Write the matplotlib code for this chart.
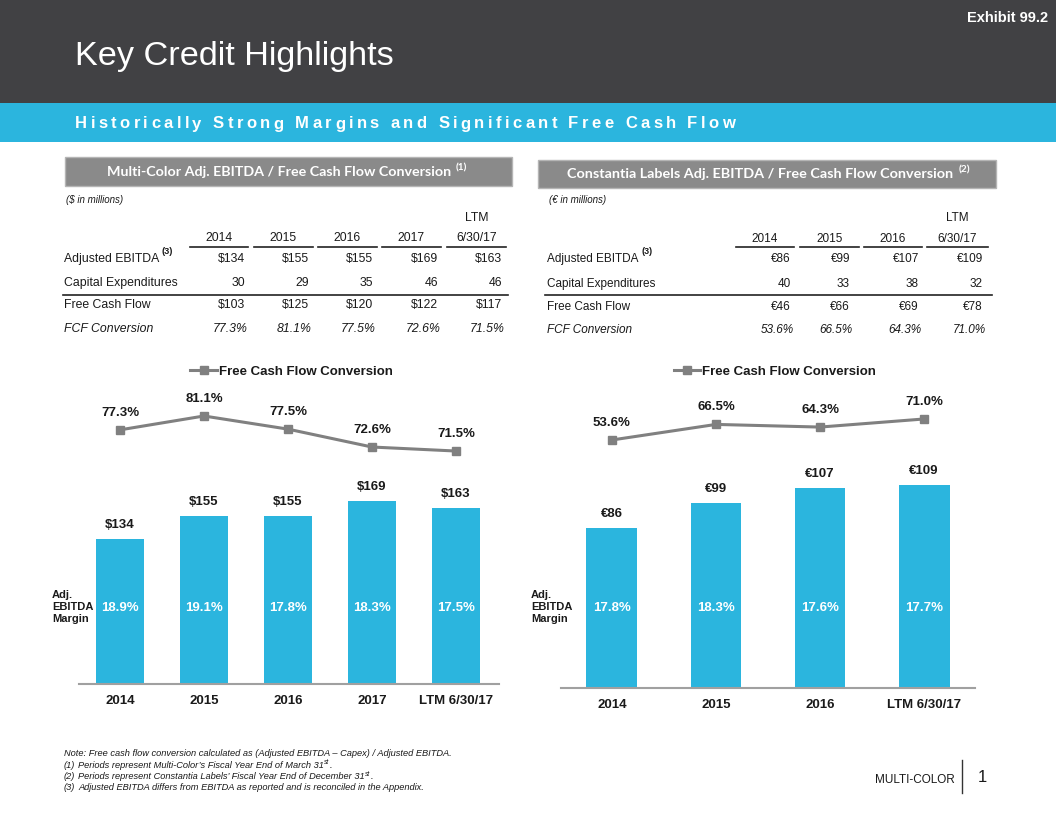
import matplotlib
matplotlib.use('Agg')
import matplotlib.pyplot as plt
from matplotlib.patches import Rectangle
from matplotlib.lines import Line2D
import matplotlib.transforms as mtransforms

# ---------------- data ----------------
mc_periods = ['2014', '2015', '2016', '2017', 'LTM 6/30/17']
mc_ebitda = [134, 155, 155, 169, 163]
mc_capex = [30, 29, 35, 46, 46]
mc_fcf = [103, 125, 120, 122, 117]
mc_conv = [77.3, 81.1, 77.5, 72.6, 71.5]
mc_margin = [18.9, 19.1, 17.8, 18.3, 17.5]

cl_periods = ['2014', '2015', '2016', 'LTM 6/30/17']
cl_ebitda = [86, 99, 107, 109]
cl_capex = [40, 33, 38, 32]
cl_fcf = [46, 66, 69, 78]
cl_conv = [53.6, 66.5, 64.3, 71.0]
cl_margin = [17.8, 18.3, 17.6, 17.7]

row_labels = ['Adjusted EBITDA', 'Capital Expenditures', 'Free Cash Flow', 'FCF Conversion']
# ---------------------------------------

plt.rcParams['font.family'] = ['Liberation Sans', 'DejaVu Sans']

W, H = 1056, 816
fig = plt.figure(figsize=(W / 100, H / 100), dpi=100)
R = fig.canvas.get_renderer()

DARK = '#414144'
BLUE = '#2BB5DE'
GRAY_BOX = '#8A8A8A'
LINE_GRAY = '#808080'
TXT = '#1A1A1A'


def fx(x):
    return x / W


def fy(y):
    return 1 - y / H


def T(x, y, s, **kw):
    kw.setdefault('va', 'center')
    return fig.text(fx(x), fy(y), s, **kw)


def rect(x0, y0, x1, y1, color, ec='none', lw=0):
    fig.add_artist(Rectangle((fx(x0), fy(y1)), (x1 - x0) / W, (y1 - y0) / H,
                             transform=fig.transFigure, facecolor=color,
                             edgecolor=ec, lw=lw))


def hline(x0, x1, y, lw=1.0, color='#222222'):
    fig.add_artist(Line2D([fx(x0), fx(x1)], [fy(y), fy(y)],
                          transform=fig.transFigure, lw=lw, color=color))


def vline(x, y0, y1, lw=1.0, color='#222222'):
    fig.add_artist(Line2D([fx(x), fx(x)], [fy(y0), fy(y1)],
                          transform=fig.transFigure, lw=lw, color=color))


def width_of(s, **kw):
    t = fig.text(0, 0, s, **kw)
    w = t.get_window_extent(R).width
    t.remove()
    return w


def fit_size(s, target, **kw):
    return 10 * target / width_of(s, fontsize=10, **kw)


def tracked(x, y, s, total_w, **kw):
    base = width_of('xx', **kw)
    cws = [width_of('x' + c + 'x', **kw) - base for c in s]
    track = (total_w - sum(cws)) / (len(s) - 1)
    cx = x
    for c, cw in zip(s, cws):
        T(cx, y, c, ha='left', **kw)
        cx += cw + track


# ---------------- header ----------------
rect(0, 0, W, 103, DARK)
rect(0, 103, W, 142, BLUE)
fs = fit_size('Key Credit Highlights', 321)
T(75, 57, 'Key Credit Highlights', fontsize=fs, color='white', ha='left')
T(1048, 18, 'Exhibit 99.2', fontsize=10.5, fontweight='bold', color='white', ha='right')
tracked(75, 124, 'Historically Strong Margins and Significant Free Cash Flow', 660,
        fontsize=12, fontweight='bold', color='white')

# ---------------- section boxes ----------------
def section(x0, y0, x1, y1, title, note, tx0, tx1):
    rect(x0, y0, x1, y1, GRAY_BOX, ec='#B5B5B5', lw=1)
    kw = dict(family=['Lato', 'DejaVu Sans'], fontweight='bold', color='white')
    fs = fit_size(title, tx1 - tx0, **kw)
    yc = (y0 + y1) / 2
    T(tx0, yc, title, fontsize=fs, ha='left', **kw)
    T(tx1 + 4, yc - 4, note, fontsize=fs * 0.7, ha='left', **kw)


section(65, 157, 512, 186, 'Multi-Color Adj. EBITDA / Free Cash Flow Conversion', '(1)', 107, 452)
section(538, 160, 996, 188, 'Constantia Labels Adj. EBITDA / Free Cash Flow Conversion', '(2)', 567, 955)

# ---------------- tables ----------------
def table(label_x, unit_txt, periods, ebitda, capex, fcf, conv, cur, right_edges, ul_spans,
          sep_span, ys, fs, sup_x):
    T(label_x + 2, 200, unit_txt, fontsize=7, style='italic', ha='left', color=TXT)
    y_ltm, y_hdr, y_ul, y_e, y_c, y_sep, y_f, y_v = ys
    for p, (a, b) in zip(periods, ul_spans):
        cx = (a + b) / 2
        parts = p.split(' ')
        if len(parts) == 2:
            T(cx, y_ltm, parts[0], fontsize=fs, ha='center', color=TXT)
            T(cx, y_hdr, parts[1], fontsize=fs, ha='center', color=TXT)
        else:
            T(cx, y_hdr, p, fontsize=fs, ha='center', color=TXT)
        hline(a, b, y_ul, lw=1.2)
    T(label_x, y_e, row_labels[0], fontsize=fs, ha='left', color=TXT)
    T(sup_x, y_e - 8, '(3)', fontsize=fs * 0.75, fontweight='bold', ha='left', color=TXT)
    T(label_x, y_c, row_labels[1], fontsize=fs, ha='left', color=TXT)
    T(label_x, y_f, row_labels[2], fontsize=fs, ha='left', color=TXT)
    T(label_x, y_v, row_labels[3], fontsize=fs, ha='left', style='italic', color=TXT)
    hline(sep_span[0], sep_span[1], y_sep, lw=1.2)
    for i, xr in enumerate(right_edges):
        T(xr, y_e, f'{cur}{ebitda[i]}', fontsize=fs, ha='right', color=TXT)
        T(xr, y_c, f'{capex[i]}', fontsize=fs, ha='right', color=TXT)
        T(xr, y_f, f'{cur}{fcf[i]}', fontsize=fs, ha='right', color=TXT)
        T(xr + 3, y_v, f'{conv[i]:.1f}%', fontsize=fs, ha='right', style='italic', color=TXT)


table(64, '($ in millions)', mc_periods, mc_ebitda, mc_capex, mc_fcf, mc_conv, '$',
      [245, 309, 373, 438, 502],
      [(190, 248), (254, 313), (318, 377), (382, 441), (447, 506)],
      (63, 508), (218, 238, 247, 259, 283, 295, 305, 329), 8.8, 162)
table(547, '(€ in millions)', cl_periods, cl_ebitda, cl_capex, cl_fcf, cl_conv, '€',
      [791, 850, 919, 983],
      [(736, 794), (800, 859), (864, 922), (927, 988)],
      (545, 992), (218, 239, 247, 259, 284, 295, 307, 330), 8.5, 641)

# ---------------- charts ----------------
def chart(left, right, top, bottom, periods, ebitda, conv, margin, cur,
          xlim, bw, bar_top, line_lim, leg_center, side_x):
    ax = fig.add_axes([fx(left), fy(bottom), (right - left) / W, (bottom - top) / H])
    x = list(range(len(periods)))
    ax.bar(x, ebitda, width=bw, color=BLUE, zorder=2)
    ax.set_xlim(*xlim)
    ax.set_ylim(0, bar_top)
    ax.set_xticks(x)
    ax.set_xticklabels(periods, fontsize=9.5, fontweight='bold', color=TXT)
    ax.tick_params(axis='x', length=0, pad=8)
    ax.set_yticks([])
    for s in ['top', 'left', 'right']:
        ax.spines[s].set_visible(False)
    ax.spines['bottom'].set_color('#A0A0A0')
    ax.spines['bottom'].set_linewidth(1.5)
    ax.patch.set_alpha(0)
    for i, v in enumerate(ebitda):
        ax.annotate(f'{cur}{v}', (i, v), xytext=(0, 10), textcoords='offset points',
                    ha='center', va='center', fontsize=9.5, fontweight='bold', color=TXT)
    trans = mtransforms.blended_transform_factory(ax.transData, ax.transAxes)
    ym = (bottom - 608) / (bottom - top)
    for i, m in enumerate(margin):
        ax.text(i, ym, f'{m:.1f}%', transform=trans, ha='center', va='center',
                fontsize=9.5, fontweight='bold', color='white', zorder=3)
    ax2 = ax.twinx()
    ax2.plot(x, conv, color=LINE_GRAY, lw=2.2, marker='s', markersize=6,
             label='Free Cash Flow Conversion')
    ax2.set_ylim(*line_lim)
    ax2.set_yticks([])
    for s in ax2.spines.values():
        s.set_visible(False)
    for i, v in enumerate(conv):
        ax2.annotate(f'{v:.1f}%', (i, v), xytext=(0, 12.2), textcoords='offset points',
                     ha='center', va='center', fontsize=9.5, fontweight='bold', color=TXT)
    leg = ax2.legend(loc='center', bbox_to_anchor=(fx(leg_center), fy(372)),
                     bbox_transform=fig.transFigure, frameon=False, handlelength=2.0,
                     handletextpad=0.15, borderpad=0, borderaxespad=0,
                     prop={'size': 9.5, 'weight': 'bold'})
    for t in leg.get_texts():
        t.set_color(TXT)
    T(side_x, 607, 'Adj.\nEBITDA\nMargin', fontsize=8, fontweight='bold', ha='left',
      color=TXT, linespacing=1.3)


# left: centers 120 + 84 i, baseline 684, 1.082 px/unit; line 3.65 px/% (81.1 @ 416)
chart(79, 499, 380, 684, mc_periods, mc_ebitda, mc_conv, mc_margin, '$',
      (-0.488, 4.512), 0.56, 281.0, (7.68, 90.96), 291.5, 52)
# right: centers 612 + 104 i, baseline 688, 1.865 px/unit; line 1.207 px/% (53.6 @ 440)
chart(561, 975, 380, 688, cl_periods, cl_ebitda, cl_conv, cl_margin, '€',
      (-0.49, 3.49), 0.49, 165.1, (-151.9, 103.3), 775, 531)

# ---------------- footer ----------------
fit_kw = dict(style='italic', color=TXT)
note = 'Note: Free cash flow conversion calculated as (Adjusted EBITDA – Capex) / Adjusted EBITDA.'
fsn = fit_size(note, 392, **fit_kw)
T(64, 753, note, fontsize=fsn, ha='left', **fit_kw)
foot = [('(1)', 'Periods represent Multi-Color’s Fiscal Year End of March 31', 'st', '.'),
        ('(2)', 'Periods represent Constantia Labels’ Fiscal Year End of December 31', 'st', '.'),
        ('(3)', 'Adjusted EBITDA differs from EBITDA as reported and is reconciled in the Appendix.', '', '')]
for k, (n, s, sup, tail) in enumerate(foot):
    yy = 765 + k * 11.5
    T(64, yy, n, fontsize=fsn, ha='left', **fit_kw)
    T(78, yy, s, fontsize=fsn, ha='left', **fit_kw)
    if sup:
        xe = 78 + width_of(s, fontsize=fsn, **fit_kw)
        sfs = fsn * 0.72
        T(xe + 0.3, yy - 2.5, sup, fontsize=sfs, ha='left', **fit_kw)
        xe2 = xe + 0.3 + width_of(sup, fontsize=sfs, **fit_kw)
        T(xe2 + 0.3, yy, tail, fontsize=fsn, ha='left', **fit_kw)

T(955, 780, 'MULTI-COLOR', fontsize=8.5, ha='right', color=TXT)
vline(962, 760, 793, lw=1.0, color='#333333')
T(982, 777, '1', fontsize=12, ha='center', color=TXT)

fig.savefig('out.png', dpi=100)
